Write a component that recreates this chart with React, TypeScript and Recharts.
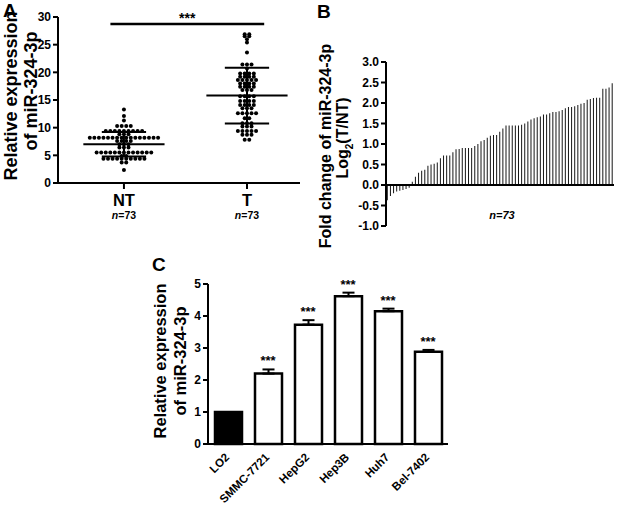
import React from 'react';
import {
  ScatterChart,
  Scatter,
  XAxis,
  YAxis,
  ReferenceLine,
  BarChart,
  Bar,
  ComposedChart,
  Line,
  ErrorBar,
  Cell,
} from 'recharts';

const FONT = '"Liberation Sans", Arial, Helvetica, sans-serif';

// ---------- Panel A data ----------
const groupLabels = ['NT', 'T'];
const groupCounts = ['73', '73'];
const ntValues = [
  13.3, 12.1, 11.3,
  10.3, 10.3, 10.3, 10.3,
  9.4, 9.4, 9.4, 9.4, 9.4, 9.4, 9.4, 9.4, 9.4,
  8.8, 8.8, 8.8,
  8.2, 8.2, 8.2, 8.2, 8.2, 8.2, 8.2, 8.2, 8.2, 8.2, 8.2, 8.2, 8.2, 8.2, 8.2, 8.2,
  7.6, 7.6, 7.6, 7.6,
  7.0, 7.0, 7.0,
  6.4, 6.4, 6.4,
  5.5, 5.5, 5.5, 5.5, 5.5, 5.5, 5.5, 5.5, 5.5, 5.5, 5.5, 5.5, 5.5,
  4.9, 4.9,
  4.4, 4.4, 4.4, 4.4, 4.4, 4.4, 4.4, 4.4, 4.4, 4.4,
  3.7, 3.7,
  2.35,
];
const tValues = [
  26.9, 26.9, 26.5, 26.5, 26.0, 25.4, 23.6,
  21.4, 21.4, 21.4, 20.7,
  19.8, 19.8, 19.8, 19.8,
  19.2, 19.2, 19.2, 19.2,
  18.6, 18.6, 18.6, 18.6, 18.6,
  18.0, 18.0, 18.0, 18.0,
  17.4, 17.4, 17.4, 17.4,
  16.8, 16.8, 16.8,
  15.7, 15.7, 15.7, 15.7,
  14.8, 14.8, 14.8, 14.8,
  14.1, 14.1, 14.1, 14.1,
  13.5, 13.5, 13.5,
  12.6, 12.6, 12.6, 12.6, 12.6,
  11.7, 11.7,
  10.8, 10.8, 10.8,
  10.2, 10.2, 10.2,
  9.4, 9.4, 9.4, 9.4, 9.4,
  8.7, 8.7, 8.7,
  7.8, 7.8,
];
const groupMeans = [7.0, 15.8];
const groupSds = [2.2, 5.05];
const sigLevelA = 28.75;
const sigTextA = '***';

// ---------- Panel B data ----------
const foldValues = [
  -0.37, -0.27, -0.2, -0.16, -0.14, -0.12, -0.1, -0.07,
  0.08, 0.2, 0.3, 0.35, 0.37, 0.47, 0.5, 0.52, 0.55, 0.65,
  0.72, 0.72, 0.72, 0.8, 0.87, 0.88, 0.9, 0.9, 0.9, 0.9,
  0.95, 1.0, 1.07, 1.1, 1.15, 1.2, 1.22, 1.22, 1.3,
  1.38, 1.45, 1.45, 1.45, 1.45, 1.45, 1.47, 1.5, 1.55, 1.6,
  1.63, 1.65, 1.67, 1.72, 1.72, 1.75, 1.78, 1.78, 1.8, 1.83,
  1.87, 1.9, 1.9, 1.92, 1.95, 1.98, 2.0, 2.08, 2.1, 2.12,
  2.13, 2.13, 2.35, 2.35, 2.38, 2.48,
];
const foldTicks = [-1.0, -0.5, 0.0, 0.5, 1.0, 1.5, 2.0, 2.5, 3.0];
const foldN = 'n=73';

// ---------- Panel C data ----------
const cellLines = ['LO2', 'SMMC-7721', 'HepG2', 'Hep3B', 'Huh7', 'Bel-7402'];
const cellValues = [1.0, 2.2, 3.73, 4.62, 4.15, 2.88];
const cellErrors = [0, 0.13, 0.14, 0.11, 0.08, 0.06];
const cellSig = ['', '***', '***', '***', '***', '***'];
const cellFills = ['#000000', '#ffffff', '#ffffff', '#ffffff', '#ffffff', '#ffffff'];

// ---------- helpers ----------
function swarm(values: number[], center: number, step: number) {
  const counts = new Map<number, number>();
  values.forEach((v) => counts.set(v, (counts.get(v) || 0) + 1));
  const seen = new Map<number, number>();
  return values.map((v) => {
    const n = counts.get(v) as number;
    const k = seen.get(v) || 0;
    seen.set(v, k + 1);
    return { x: center + (k - (n - 1) / 2) * step, y: v };
  });
}

const STEP = 0.037;
const ntPoints = swarm(ntValues, 1, STEP);
const tPoints = swarm(tValues, 2, STEP);

const foldData = foldValues.map((v, i) => ({ i, v }));
const cellData = cellLines.map((name, i) => ({
  name,
  value: cellValues[i],
  err: [0, cellErrors[i]],
  top: cellSig[i] ? cellValues[i] + cellErrors[i] : null,
  sig: cellSig[i],
}));

const Dot = (props: any) => <circle cx={props.cx} cy={props.cy} r={2} fill="#000" />;

const GroupTick = (props: any) => {
  const { x, y, payload } = props;
  const idx = Math.round(payload.value) - 1;
  return (
    <g>
      <text x={x} y={y + 15} textAnchor="middle" fontSize={16.5} fontWeight="bold" fill="#000">
        {groupLabels[idx]}
      </text>
      <text x={x} y={y + 28} textAnchor="middle" fontSize={10.5} fontWeight="bold" fill="#000">
        <tspan fontStyle="italic">n</tspan>={groupCounts[idx]}
      </text>
    </g>
  );
};

const CellTick = (props: any) => {
  const { x, y, payload } = props;
  const ax = x + 2;
  const ay = y + 6;
  return (
    <text
      x={ax}
      y={ay}
      textAnchor="end"
      fontSize={11.5}
      fontWeight="bold"
      fill="#000"
      transform={`rotate(-45, ${ax}, ${ay})`}
    >
      {payload.value}
    </text>
  );
};

const SigLabel = (props: any) => {
  const { x, y, index } = props;
  const s = cellData[index] && cellData[index].sig;
  if (!s || y == null || isNaN(y)) return null;
  return (
    <text x={x} y={y - 4} textAnchor="middle" fontSize={13} fontWeight="bold" fill="#000">
      {s}
    </text>
  );
};

const VText = ({ cx, cy, size, children }: any) => (
  <div
    style={{
      position: 'absolute',
      left: cx,
      top: cy,
      transform: 'translate(-50%, -50%) rotate(-90deg)',
      whiteSpace: 'nowrap',
      fontSize: size,
      fontWeight: 'bold',
      lineHeight: 1,
      color: '#000',
    }}
  >
    {children}
  </div>
);

const Letter = ({ x, y, children }: any) => (
  <div style={{ position: 'absolute', left: x, top: y, fontSize: 19, fontWeight: 'bold', lineHeight: 1 }}>
    {children}
  </div>
);

const axisStyle = { stroke: '#000', strokeWidth: 2 };
const tickStyle = { fill: '#000', fontSize: 12, fontWeight: 'bold' as const };

export default function App() {
  return (
    <div
      style={{
        position: 'absolute',
        left: 0,
        top: 0,
        width: 617,
        height: 506,
        background: '#fff',
        fontFamily: FONT,
        overflow: 'hidden',
      }}
    >
      {/* Panel A */}
      <div style={{ position: 'absolute', left: 0, top: 0 }}>
        <ScatterChart width={305} height={230} margin={{ top: 17, right: 5, bottom: 7, left: 0 }}>
          <XAxis
            type="number"
            dataKey="x"
            domain={[0.464, 2.431]}
            ticks={[1, 2]}
            allowDataOverflow
            axisLine={axisStyle}
            tickLine={axisStyle}
            tickSize={6}
            tick={<GroupTick />}
            height={40}
          />
          <YAxis
            type="number"
            dataKey="y"
            domain={[0, 30]}
            ticks={[0, 5, 10, 15, 20, 25, 30]}
            axisLine={axisStyle}
            tickLine={axisStyle}
            tickSize={5}
            tick={tickStyle}
            width={58}
          />
          <Scatter data={ntPoints} shape={<Dot />} isAnimationActive={false} />
          <Scatter data={tPoints} shape={<Dot />} isAnimationActive={false} />
          {groupMeans.map((m, i) => (
            <ReferenceLine
              key={`m${i}`}
              segment={[{ x: i + 1 - 0.33, y: m }, { x: i + 1 + 0.33, y: m }]}
              stroke="#000"
              strokeWidth={2}
            />
          ))}
          {groupMeans.map((m, i) => (
            <ReferenceLine
              key={`v${i}`}
              segment={[{ x: i + 1, y: m - groupSds[i] }, { x: i + 1, y: m + groupSds[i] }]}
              stroke="#000"
              strokeWidth={2}
            />
          ))}
          {groupMeans.map((m, i) => (
            <ReferenceLine
              key={`u${i}`}
              segment={[{ x: i + 1 - 0.18, y: m + groupSds[i] }, { x: i + 1 + 0.18, y: m + groupSds[i] }]}
              stroke="#000"
              strokeWidth={2}
            />
          ))}
          {groupMeans.map((m, i) => (
            <ReferenceLine
              key={`l${i}`}
              segment={[{ x: i + 1 - 0.18, y: m - groupSds[i] }, { x: i + 1 + 0.18, y: m - groupSds[i] }]}
              stroke="#000"
              strokeWidth={2}
            />
          ))}
          <ReferenceLine
            segment={[{ x: 0.89, y: sigLevelA }, { x: 2.14, y: sigLevelA }]}
            stroke="#000"
            strokeWidth={2.5}
            label={{ value: sigTextA, position: 'top', fill: '#000', fontSize: 14, fontWeight: 'bold', offset: 1 }}
          />
        </ScatterChart>
      </div>

      {/* Panel B */}
      <div style={{ position: 'absolute', left: 300, top: 0 }}>
        <BarChart
          width={317}
          height={240}
          data={foldData}
          margin={{ top: 62, right: 3, bottom: 14, left: 0 }}
          barCategoryGap="26%"
        >
          <XAxis dataKey="i" hide />
          <YAxis
            type="number"
            domain={[-1, 3]}
            ticks={foldTicks}
            tickFormatter={(v: number) => v.toFixed(1)}
            axisLine={axisStyle}
            tickLine={axisStyle}
            tickSize={5}
            tick={tickStyle}
            width={86}
          />
          <Bar dataKey="v" fill="#151515" isAnimationActive={false} />
          <ReferenceLine y={0} stroke="#000" strokeWidth={2} />
        </BarChart>
      </div>

      {/* Panel C */}
      <div style={{ position: 'absolute', left: 150, top: 240 }}>
        <ComposedChart width={310} height={266} data={cellData} margin={{ top: 44, right: 12, bottom: 2, left: 0 }}>
          <XAxis
            dataKey="name"
            axisLine={axisStyle}
            tickLine={false}
            interval={0}
            tick={<CellTick />}
            height={60}
          />
          <YAxis
            type="number"
            domain={[0, 5]}
            ticks={[0, 1, 2, 3, 4, 5]}
            axisLine={axisStyle}
            tickLine={axisStyle}
            tickSize={5}
            tick={tickStyle}
            width={58}
          />
          <Bar dataKey="value" barSize={27} stroke="#000" strokeWidth={2.5} isAnimationActive={false}>
            {cellData.map((d, i) => (
              <Cell key={d.name} fill={cellFills[i]} />
            ))}
            <ErrorBar dataKey="err" width={6} stroke="#000" strokeWidth={2} direction="y" />
          </Bar>
          <Line
            dataKey="top"
            stroke="none"
            dot={false}
            activeDot={false}
            label={<SigLabel />}
            isAnimationActive={false}
          />
        </ComposedChart>
      </div>

      {/* Text overlays */}
      <Letter x={3} y={1}>A</Letter>
      <Letter x={317} y={2}>B</Letter>
      <Letter x={152} y={255}>C</Letter>

      <VText cx={11} cy={96} size={18}>Relative expression</VText>
      <VText cx={31} cy={91} size={18}>of miR-324-3p</VText>

      <VText cx={326} cy={146} size={16}>Fold change of miR-324-3p</VText>
      <VText cx={345} cy={138} size={16}>
        Log<span style={{ fontSize: 10, verticalAlign: 'sub' }}>2</span>(T/NT)
      </VText>

      <VText cx={160} cy={361} size={16.5}>Relative expression</VText>
      <VText cx={180} cy={361} size={16.5}>of miR-324-3p</VText>

      <div
        style={{
          position: 'absolute',
          left: 502,
          top: 215,
          transform: 'translate(-50%, -50%)',
          fontSize: 11,
          fontWeight: 'bold',
          fontStyle: 'italic',
          lineHeight: 1,
        }}
      >
        {foldN}
      </div>
    </div>
  );
}
